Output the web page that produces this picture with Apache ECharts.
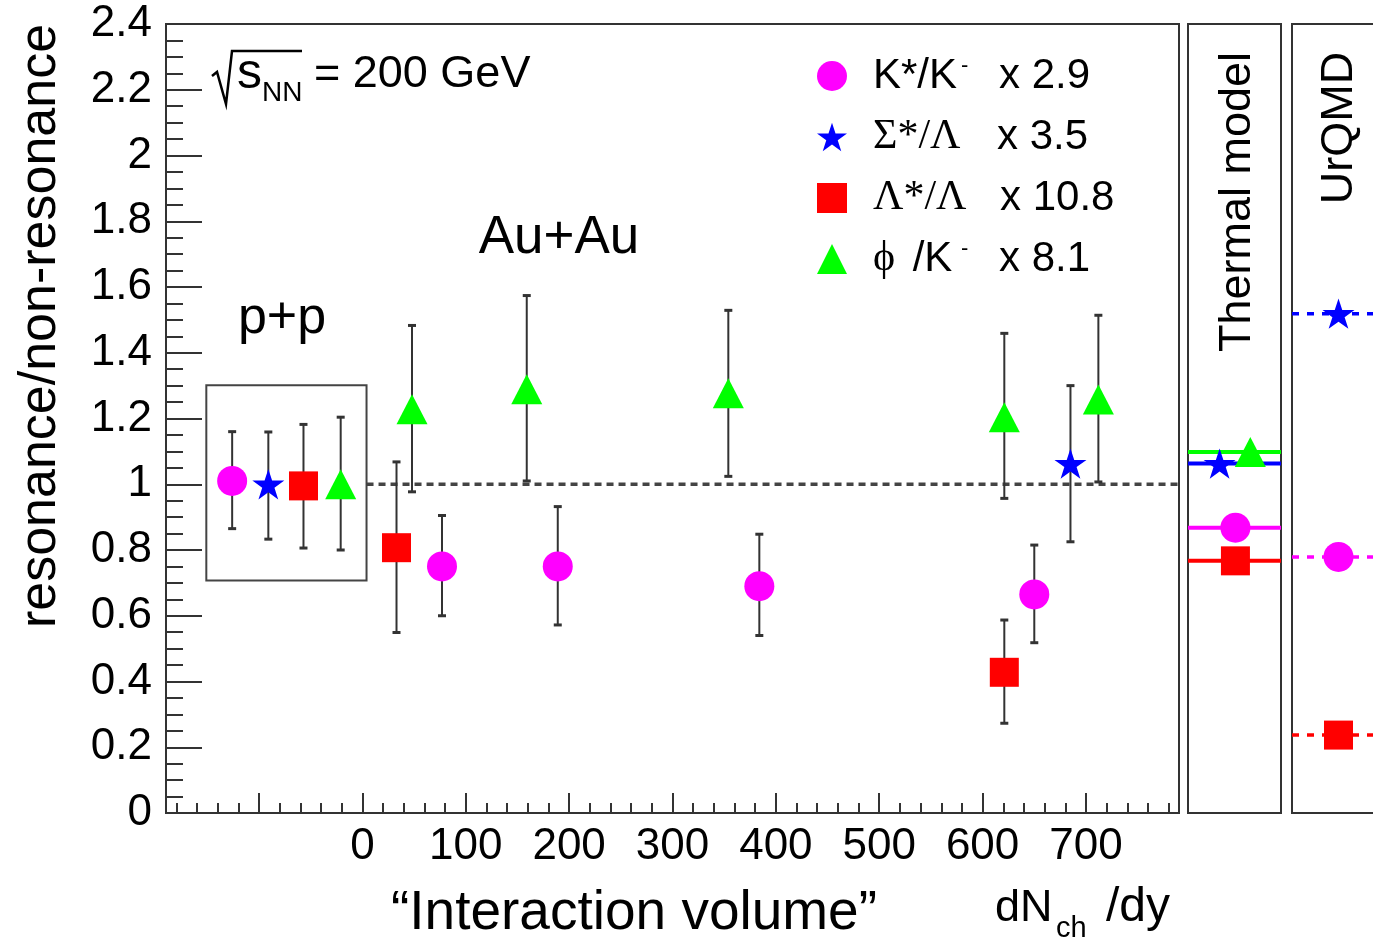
<!DOCTYPE html>
<html><head><meta charset="utf-8">
<script src="https://cdn.jsdelivr.net/npm/echarts@6/dist/echarts.min.js"></script>
<style>html,body{margin:0;padding:0;background:#fff}#c{width:1373px;height:941px}</style>
</head><body><div id="c"></div>
<script>
// ---------------- data ----------------
const speciesNames = ['K*/K-', 'Σ*/Λ', 'Λ*/Λ', 'ϕ /K-'];
const scaleFactors = ['x 2.9', 'x 3.5', 'x 10.8', 'x 8.1'];
const xTickValues = [0, 100, 200, 300, 400, 500, 600, 700];

// x = dN_ch/dy ; negative x = p+p reference points (first entries)
const kstarX  = [-126, 77, 189, 384, 650];
const kstarY  = [1.01, 0.75, 0.75, 0.69, 0.665];
const kstarLo = [0.865, 0.60, 0.572, 0.54, 0.518];
const kstarHi = [1.16, 0.905, 0.932, 0.848, 0.815];

const sigmaX  = [-91, 685];
const sigmaY  = [1.0, 1.063];
const sigmaLo = [0.833, 0.825];
const sigmaHi = [1.159, 1.30];

const lambdaX  = [-57, 33, 621];
const lambdaY  = [0.995, 0.807, 0.428];
const lambdaLo = [0.806, 0.549, 0.273];
const lambdaHi = [1.182, 1.068, 0.587];

const phiX  = [-21, 48, 159, 354, 621, 712];
const phiY  = [1.0, 1.228, 1.289, 1.277, 1.204, 1.258];
const phiLo = [0.80, 0.977, 1.01, 1.024, 0.957, 1.007];
const phiHi = [1.204, 1.483, 1.574, 1.529, 1.459, 1.514];

// model predictions, order: K*, Σ*, Λ*, φ
const thermalValues = [0.868, 1.063, 0.767, 1.098];
const urqmdValues   = [0.779, 1.519, 0.237, null];

const unityLevel = 1.0;
const ppBox = [[-151, 0.707], [4, 1.301]];

// ---------------- styles / layout ----------------
const SANS = 'Liberation Sans';
const SERIF = 'Liberation Serif';
const STAR = 'path://M50,2 L61.2,36.2 L97.6,36.2 L68.2,57.6 L79.4,92 L50,70.8 L20.6,92 L31.8,57.6 L2.4,36.2 L38.8,36.2 Z';
const colors = ['#ff00ff', '#0000ff', '#ff0000', '#00ff00'];
const symbols = ['circle', STAR, 'rect', 'triangle'];
const symbolSizes = [30, 32, 29, [31, 30]];
const thermalMarkerPos = [0.51, 0.34, 0.51, 0.67];
const urqmdMarkerPos = 0.5;
const FRAME = '#333';

const dataSets = [
  [kstarX, kstarY, kstarLo, kstarHi],
  [sigmaX, sigmaY, sigmaLo, sigmaHi],
  [lambdaX, lambdaY, lambdaLo, lambdaHi],
  [phiX, phiY, phiLo, phiHi]
];

const series = [];
// unity dotted line + p+p box
series.push({
  type: 'line', xAxisIndex: 0, yAxisIndex: 0, z: 2, silent: true,
  data: [[ppBox[1][0], unityLevel], [790, unityLevel]],
  symbol: 'none', lineStyle: {color: '#444', width: 3.5, type: [7, 5]},
  markArea: {silent: true, itemStyle: {color: 'rgba(0,0,0,0)', borderColor: '#444', borderWidth: 2},
    data: [[{coord: ppBox[0]}, {coord: ppBox[1]}]]}
});
// error bars
const errData = [];
dataSets.forEach(d => d[0].forEach((x, i) => errData.push([x, d[2][i], d[3][i]])));
series.push({
  type: 'custom', xAxisIndex: 0, yAxisIndex: 0, z: 3, silent: true,
  encode: {x: 0, y: [1, 2]},
  data: errData,
  renderItem: function (params, api) {
    const x = api.value(0), lo = api.value(1), hi = api.value(2);
    const a = api.coord([x, lo]), b = api.coord([x, hi]);
    const cw = 4, col = '#333';
    return {type: 'group', children: [
      {type: 'line', shape: {x1: a[0], y1: a[1], x2: b[0], y2: b[1]}, style: {stroke: col, lineWidth: 2}},
      {type: 'line', shape: {x1: a[0] - cw, y1: a[1], x2: a[0] + cw, y2: a[1]}, style: {stroke: col, lineWidth: 3}},
      {type: 'line', shape: {x1: b[0] - cw, y1: b[1], x2: b[0] + cw, y2: b[1]}, style: {stroke: col, lineWidth: 3}}
    ]};
  }
});
// data markers
dataSets.forEach((d, k) => {
  series.push({
    name: speciesNames[k], type: 'scatter', xAxisIndex: 0, yAxisIndex: 0, z: 5,
    symbol: symbols[k], symbolSize: symbolSizes[k], symbolKeepAspect: true,
    itemStyle: {color: colors[k], opacity: 1},
    data: d[0].map((x, i) => [x, d[1][i]])
  });
});
// thermal model
thermalValues.forEach((v, k) => {
  if (v == null) return;
  series.push({type: 'line', xAxisIndex: 2, yAxisIndex: 1, z: 3, silent: true, symbol: 'none',
    data: [[0, v], [1, v]], lineStyle: {color: colors[k], width: 4}});
  series.push({type: 'scatter', xAxisIndex: 2, yAxisIndex: 1, z: 5, silent: true,
    symbol: symbols[k], symbolSize: symbolSizes[k], symbolKeepAspect: true,
    itemStyle: {color: colors[k], opacity: 1}, data: [[thermalMarkerPos[k], v]]});
});
// UrQMD
urqmdValues.forEach((v, k) => {
  if (v == null) return;
  series.push({type: 'line', xAxisIndex: 3, yAxisIndex: 2, z: 3, silent: true, symbol: 'none',
    data: [[0, v], [1, v]], lineStyle: {color: colors[k], width: 3.5, type: [7, 8]}});
  series.push({type: 'scatter', xAxisIndex: 3, yAxisIndex: 2, z: 5, silent: true,
    symbol: symbols[k], symbolSize: symbolSizes[k], symbolKeepAspect: true,
    itemStyle: {color: colors[k], opacity: 1}, data: [[urqmdMarkerPos, v]]});
});

const legendText = {
  'K*/K-': '{sp| }{n|K*/K}{sup|-}{m|' + scaleFactors[0] + '}',
  'Σ*/Λ': '{sp| }{g|Σ*/Λ}{m|' + scaleFactors[1] + '}',
  'Λ*/Λ': '{sp| }{g3|Λ*/Λ}{m|' + scaleFactors[2] + '}',
  'ϕ /K-': '{sp| }{ph|ϕ}{n2| /K}{sup|-}{m|' + scaleFactors[3] + '}'
};

function txt(text, x, y, size, opts) {
  opts = opts || {};
  return {
    type: 'text', x: x, y: y, rotation: opts.rotation || 0, z: 10, silent: true,
    style: {
      text: text, fill: '#000', font: size + 'px "' + (opts.family || SANS) + '"',
      fontSize: size, fontFamily: opts.family || SANS,
      align: opts.align || 'center', textAlign: opts.align || 'center',
      verticalAlign: 'middle', textVerticalAlign: 'middle'
    }
  };
}

const gridBase = {show: true, borderColor: FRAME, borderWidth: 2, backgroundColor: 'transparent',
  containLabel: false, outerBoundsMode: 'none'};

const option = {
  animation: false,
  backgroundColor: '#fff',
  textStyle: {fontFamily: SANS},
  grid: [
    Object.assign({left: 166, top: 24, width: 1013, height: 789}, gridBase),
    Object.assign({left: 1188, top: 24, width: 93, height: 789}, gridBase),
    Object.assign({left: 1292, top: 24, width: 93, height: 789}, gridBase)
  ],
  xAxis: [
    {type: 'value', gridIndex: 0, min: -190, max: 790, minInterval: 100, maxInterval: 100, splitNumber: 10,
      position: 'bottom',
      axisLine: {show: true, onZero: false, lineStyle: {color: FRAME, width: 2}},
      axisTick: {show: true, inside: true, length: 20, lineStyle: {color: FRAME, width: 2}},
      splitLine: {show: false},
      axisLabel: {show: true, fontSize: 44, color: '#000', margin: 12, lineHeight: 44, fontFamily: SANS,
        showMinLabel: false, showMaxLabel: false,
        formatter: v => xTickValues.indexOf(Math.round(v)) >= 0 && Math.abs(v - Math.round(v)) < 1e-6 ? String(Math.round(v)) : ''}},
    {type: 'value', gridIndex: 0, min: -190, max: 790, minInterval: 20, maxInterval: 20, splitNumber: 49,
      position: 'bottom', offset: 0,
      axisLine: {show: false, onZero: false},
      axisTick: {show: true, inside: true, length: 10, lineStyle: {color: FRAME, width: 2}},
      splitLine: {show: false}, axisLabel: {show: false}},
    {type: 'value', gridIndex: 1, min: 0, max: 1, show: false},
    {type: 'value', gridIndex: 2, min: 0, max: 1, show: false}
  ],
  yAxis: [
    {type: 'value', gridIndex: 0, min: 0, max: 2.4, interval: 0.2, position: 'left',
      axisLine: {show: true, onZero: false, lineStyle: {color: FRAME, width: 2}},
      axisTick: {show: true, inside: true, length: 36, lineStyle: {color: FRAME, width: 2}},
      minorTick: {show: true, splitNumber: 4, length: 17, lineStyle: {color: FRAME, width: 2}},
      splitLine: {show: false}, minorSplitLine: {show: false},
      axisLabel: {fontSize: 44, color: '#000', margin: 14, fontFamily: SANS}},
    {type: 'value', gridIndex: 1, min: 0, max: 2.4, show: false},
    {type: 'value', gridIndex: 2, min: 0, max: 2.4, show: false}
  ],
  legend: {
    data: speciesNames, orient: 'vertical', left: 817, top: 55, padding: 0,
    itemWidth: 30, itemHeight: 30, itemGap: 19, selectedMode: false,
    formatter: name => legendText[name],
    textStyle: {fontSize: 42, color: '#000', fontFamily: SANS,
      rich: {
        sp: {width: 21, fontSize: 42},
        n: {width: 86, fontSize: 42, fontFamily: SANS, color: '#000'},
        n2: {width: 58, fontSize: 42, fontFamily: SANS, color: '#000'},
        sup: {width: 38, fontSize: 22, padding: [0, 0, 20, 2], fontFamily: SANS, color: '#000'},
        g: {width: 124, fontSize: 42, fontFamily: SERIF, color: '#000'},
        g3: {width: 127, fontSize: 42, fontFamily: SERIF, color: '#000'},
        ph: {width: 28, fontSize: 42, fontFamily: SERIF, color: '#000'},
        m: {fontSize: 42, fontFamily: SANS, color: '#000'}
      }}
  },
  graphic: [
    txt('resonance/non-resonance', 41, 326, 52, {rotation: Math.PI / 2}),
    txt('\u201CInteraction volume\u201D', 634, 914, 55),
    txt('dN', 995, 909, 45, {align: 'left'}),
    txt('ch', 1056, 929, 29, {align: 'left'}),
    txt('/dy', 1106, 908, 48, {align: 'left'}),
    txt('p+p', 282, 319, 52),
    txt('Au+Au', 559, 238, 53),
    {type: 'polyline', silent: true, z: 10,
      shape: {points: [[212, 76], [217, 72], [226, 104], [232, 51], [302, 51]]},
      style: {stroke: '#000', lineWidth: 2.5, fill: null}},
    txt('s', 237, 74, 50, {align: 'left'}),
    txt('NN', 262, 93, 28, {align: 'left'}),
    txt('= 200 GeV', 314, 75, 45, {align: 'left'}),
    txt('Thermal model', 1238, 202, 45, {rotation: Math.PI / 2}),
    txt('UrQMD', 1340, 128, 45, {rotation: Math.PI / 2})
  ],
  series: series
};

const chart = echarts.init(document.getElementById('c'), null, {renderer: 'canvas'});
chart.setOption(option);
</script>
</body></html>
